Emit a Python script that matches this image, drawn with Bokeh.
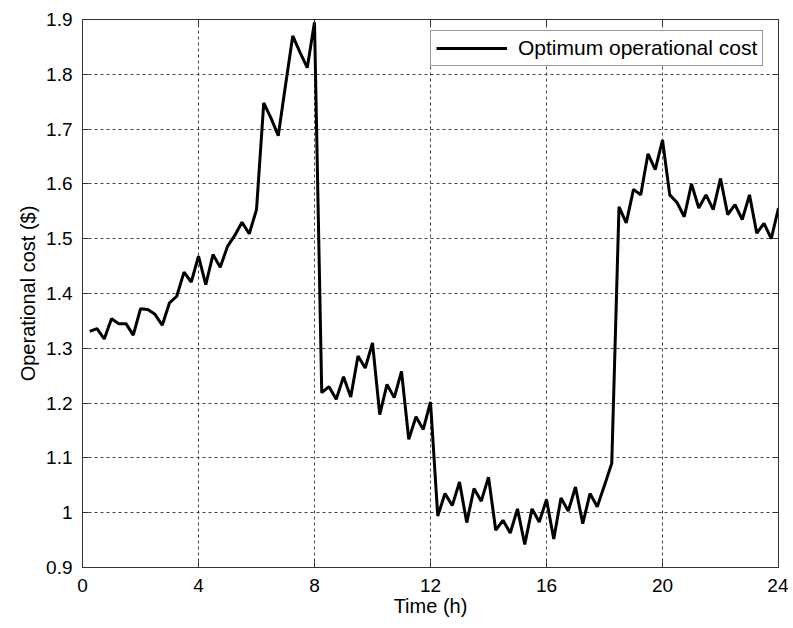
from bokeh.plotting import figure
from bokeh.models import Range1d, FixedTicker, LinearAxis, Legend, LegendItem
from bokeh.embed import file_html
from bokeh.resources import INLINE

# ---- data ----
time_h = [i * 0.25 for i in range(1, 97)]
cost = [
    1.331, 1.336, 1.317, 1.354, 1.345, 1.345, 1.324, 1.372,
    1.371, 1.362, 1.342, 1.383, 1.395, 1.439, 1.421, 1.468,
    1.416, 1.471, 1.448, 1.486, 1.506, 1.530, 1.509, 1.553,
    1.748, 1.720, 1.688, 1.780, 1.870, 1.840, 1.812, 1.895,
    1.219, 1.230, 1.207, 1.248, 1.211, 1.286, 1.264, 1.310,
    1.179, 1.234, 1.210, 1.258, 1.134, 1.175, 1.152, 1.202,
    0.994, 1.035, 1.013, 1.056, 0.982, 1.044, 1.021, 1.065,
    0.968, 0.986, 0.963, 1.007, 0.942, 1.007, 0.983, 1.024,
    0.952, 1.027, 1.003, 1.047, 0.980, 1.035, 1.011, 1.050,
    1.090, 1.558, 1.529, 1.590, 1.580, 1.655, 1.626, 1.680,
    1.580, 1.566, 1.540, 1.600, 1.556, 1.580, 1.553, 1.610,
    1.544, 1.562, 1.535, 1.580, 1.510, 1.528, 1.500, 1.556,
]
x_ticks = [0, 4, 8, 12, 16, 20, 24]
y_ticks = [0.9, 1.0, 1.1, 1.2, 1.3, 1.4, 1.5, 1.6, 1.7, 1.8, 1.9]
y_tick_labels = ["0.9", "1", "1.1", "1.2", "1.3", "1.4", "1.5", "1.6", "1.7", "1.8", "1.9"]
series_name = "Optimum operational cost"

FONT = "Liberation Sans"

p = figure(width=788, height=625, output_backend="svg", toolbar_location=None,
           x_range=Range1d(0, 24), y_range=Range1d(0.9, 1.9),
           min_border_left=82, min_border_right=10, min_border_top=19, min_border_bottom=58)
p.background_fill_color = "white"
p.border_fill_color = "white"
p.outline_line_color = "#333333"
p.outline_line_width = 1

line = p.line(time_h, cost, line_color="black", line_width=3)

for ax in (p.xaxis[0], p.yaxis[0]):
    ax.axis_line_color = "#333333"
    ax.major_tick_in = 6
    ax.major_tick_out = 0
    ax.minor_tick_line_color = None
    ax.major_tick_line_color = "#333333"
    ax.major_label_text_font = FONT
    ax.major_label_text_font_size = "19px"
    ax.major_label_text_color = "black"
    ax.axis_label_text_font = FONT
    ax.axis_label_text_font_size = "20px"
    ax.axis_label_text_font_style = "normal"
    ax.axis_label_text_color = "black"

p.xaxis.ticker = FixedTicker(ticks=x_ticks)
p.yaxis.ticker = FixedTicker(ticks=y_ticks)
p.yaxis.major_label_overrides = {t: l for t, l in zip(y_ticks, y_tick_labels)}
p.xaxis.axis_label = "Time (h)"
p.yaxis.axis_label = "Operational cost ($)"
p.xaxis.major_label_standoff = 11
p.yaxis.major_label_standoff = 10
p.xaxis.axis_label_standoff = 0
p.yaxis.axis_label_standoff = 4

for loc, ticks in (("above", x_ticks), ("right", y_ticks)):
    ax = LinearAxis(ticker=FixedTicker(ticks=ticks))
    ax.axis_line_color = "#333333"
    ax.major_tick_in = 6
    ax.major_tick_out = 0
    ax.minor_tick_line_color = None
    ax.major_tick_line_color = "#333333"
    ax.major_label_text_color = None
    ax.major_label_text_font_size = "1px"
    ax.major_label_overrides = {t: "" for t in ticks}
    ax.major_label_standoff = 0
    p.add_layout(ax, loc)

p.xgrid.ticker = FixedTicker(ticks=x_ticks)
p.ygrid.ticker = FixedTicker(ticks=y_ticks)
for g in (p.xgrid[0], p.ygrid[0]):
    g.grid_line_color = "#444444"
    g.grid_line_dash = "3 3"
    g.grid_line_width = 1

legend = Legend(items=[LegendItem(label=series_name, renderers=[line])],
                location=(348, 501), margin=0)
legend.label_text_font = FONT
legend.label_text_font_size = "21px"
legend.label_text_line_height = 1.0
legend.label_text_color = "black"
legend.glyph_width = 71
legend.glyph_height = 16
legend.label_height = 16
legend.label_standoff = 11
legend.padding = 5
legend.border_line_color = "#333333"
legend.border_line_width = 1
legend.background_fill_color = "white"
legend.background_fill_alpha = 1
p.add_layout(legend, "center")

open("out.html", "w").write(file_html(p, INLINE))
